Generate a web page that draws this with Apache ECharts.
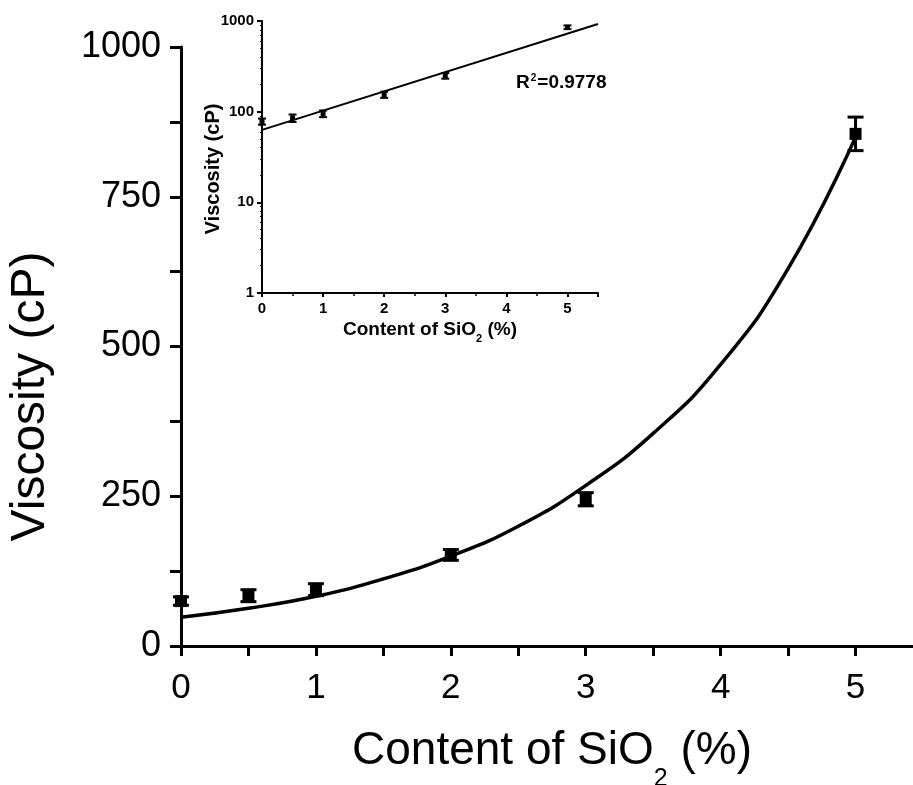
<!DOCTYPE html>
<html>
<head>
<meta charset="utf-8">
<script src="https://cdn.jsdelivr.net/npm/echarts@6/dist/echarts.min.js"></script>
<style>
  html, body { margin: 0; padding: 0; background: #fff; }
  #content { width: 913px; height: 785px; }
</style>
</head>
<body>
<div id="content"></div>
<script>
!(function(window) {
    var element = document.getElementById('content');
    var myChart = echarts.init(element);

    // measured points (main, linear)
    var xPts = [0, 0.5, 1, 2, 3, 5];
    var yMain = [75, 84, 94, 152, 245, 855];
    var errMain = [7, 10, 10, 9, 11, 28];

    // fitted curve
    var fitX = [0, 0.5, 1, 1.5, 2, 2.5, 3, 3.5, 4, 4.5, 5];
    var fitY = [48, 63, 83, 112, 150, 200, 268, 355, 470, 630, 850];

    // inset (log)
    var yInset = [78, 85, 95, 154, 249, 853];
    var errInset = [6, 8, 8, 12, 18, 40];
    var insetFitX = [0, 5.5];
    var insetFitY = [63, 927];

    var yTicks = [0, 250, 500, 750, 1000];

    function pairs(xs, ys) {
        return xs.map(function(x, i) { return [x, ys[i]]; });
    }
    function errData(xs, ys, es) {
        return xs.map(function(x, i) { return [x, ys[i] - es[i], ys[i] + es[i]]; });
    }
    function errRender(capW, lw) {
        return function(params, api) {
            var lo = api.coord([api.value(0), api.value(1)]);
            var hi = api.coord([api.value(0), api.value(2)]);
            var st = { stroke: '#000', lineWidth: lw };
            return {
                type: 'group',
                children: [
                    { type: 'line', shape: { x1: lo[0], y1: lo[1], x2: hi[0], y2: hi[1] }, style: st },
                    { type: 'line', shape: { x1: lo[0] - capW, y1: lo[1], x2: lo[0] + capW, y2: lo[1] }, style: st },
                    { type: 'line', shape: { x1: hi[0] - capW, y1: hi[1], x2: hi[0] + capW, y2: hi[1] }, style: st }
                ]
            };
        };
    }

    var option = {
        animation: false,
        textStyle: { fontFamily: 'Liberation Sans', color: '#000' },
        grid: [
            { left: 181, top: 47, right: -10, bottom: 139, containLabel: false, outerBoundsMode: 'none' },
            { left: 262, top: 21, width: 336, height: 272, containLabel: false, outerBoundsMode: 'none' }
        ],
        xAxis: [{
            gridIndex: 0,
            type: 'value',
            min: 0,
            max: 5.5,
            interval: 0.5,
            name: 'Content of SiO{s|2} (%)',
            nameLocation: 'middle',
            nameGap: 82,
            nameTextStyle: {
                fontSize: 46, color: '#000',
                rich: { s: { fontSize: 25, verticalAlign: 'bottom', padding: [0, 0, -18, 0] } }
            },
            axisLine: { onZero: false, lineStyle: { color: '#000', width: 3 } },
            axisTick: { length: 10, lineStyle: { color: '#000', width: 3 } },
            splitLine: { show: false },
            axisLabel: {
                fontSize: 35, color: '#000', margin: 25,
                formatter: function(v) { return v % 1 === 0 && v <= 5 ? v : ''; }
            }
        }, {
            gridIndex: 1,
            type: 'value',
            min: 0,
            max: 5.5,
            interval: 1,
            name: 'Content of SiO{s|2} (%)',
            nameLocation: 'middle',
            nameGap: 27,
            nameTextStyle: {
                fontSize: 19, fontWeight: 'bold', color: '#000',
                rich: { s: { fontSize: 11, fontWeight: 'bold', verticalAlign: 'bottom', padding: [0, 0, -5, 0] } }
            },
            axisLine: { onZero: false, lineStyle: { color: '#000', width: 2 } },
            axisTick: { length: 4, lineStyle: { color: '#000', width: 2 } },
            minorTick: { show: true, splitNumber: 2, length: 3, lineStyle: { color: '#000', width: 1.5 } },
            splitLine: { show: false },
            axisLabel: {
                fontSize: 15, fontWeight: 'bold', color: '#000', margin: 8,
                formatter: function(v) { return v <= 5 ? v : ''; }
            }
        }],
        yAxis: [{
            gridIndex: 0,
            type: 'value',
            min: 0,
            max: 1000,
            interval: 125,
            name: 'Viscosity (cP)',
            nameLocation: 'middle',
            nameGap: 126,
            nameTextStyle: { fontSize: 48, color: '#000', padding: [0, 100, 0, 0] },
            axisLine: { onZero: false, lineStyle: { color: '#000', width: 3 } },
            axisTick: { length: 11, lineStyle: { color: '#000', width: 3 } },
            splitLine: { show: false },
            axisLabel: {
                fontSize: 36, color: '#000', margin: 20,
                formatter: function(v) { return yTicks.indexOf(v) >= 0 ? v : ''; }
            }
        }, {
            gridIndex: 1,
            type: 'log',
            logBase: 10,
            min: 1,
            max: 1000,
            name: 'Viscosity (cP)',
            nameLocation: 'middle',
            nameGap: 39,
            nameMoveOverlap: false,
            nameTextStyle: { fontSize: 20, fontWeight: 'bold', color: '#000', padding: [0, 24, 0, 0] },
            axisLine: { onZero: false, lineStyle: { color: '#000', width: 2 } },
            axisTick: { length: 5, lineStyle: { color: '#000', width: 2 } },
            minorTick: { show: true, splitNumber: 9, length: 2, lineStyle: { color: '#000', width: 1 } },
            splitLine: { show: false },
            axisLabel: {
                fontSize: 15, fontWeight: 'bold', color: '#000', margin: 8,
                formatter: function(v) { return String(v); }
            }
        }],
        title: {
            text: 'R{p|2}=0.9778',
            left: 516,
            top: 73,
            padding: 0,
            textStyle: {
                fontFamily: 'Liberation Sans', fontSize: 19, fontWeight: 'bold', color: '#000',
                rich: { p: { fontSize: 10, fontWeight: 'bold', verticalAlign: 'top', padding: [0, 1, 0, 1] } }
            }
        },
        series: [{
            name: 'fit',
            type: 'line',
            xAxisIndex: 0,
            yAxisIndex: 0,
            smooth: true,
            symbol: 'none',
            lineStyle: { color: '#000', width: 3.5 },
            data: pairs(fitX, fitY)
        }, {
            name: 'err',
            type: 'custom',
            xAxisIndex: 0,
            yAxisIndex: 0,
            renderItem: errRender(8, 3),
            encode: { x: 0, y: [1, 2] },
            data: errData(xPts, yMain, errMain)
        }, {
            name: 'data',
            type: 'scatter',
            xAxisIndex: 0,
            yAxisIndex: 0,
            symbol: 'rect',
            symbolSize: 12,
            itemStyle: { color: '#000', opacity: 1 },
            data: pairs(xPts, yMain)
        }, {
            name: 'insetFit',
            type: 'line',
            xAxisIndex: 1,
            yAxisIndex: 1,
            symbol: 'none',
            lineStyle: { color: '#000', width: 2 },
            data: pairs(insetFitX, insetFitY)
        }, {
            name: 'insetErr',
            type: 'custom',
            xAxisIndex: 1,
            yAxisIndex: 1,
            renderItem: errRender(4, 2),
            encode: { x: 0, y: [1, 2] },
            data: errData(xPts, yInset, errInset)
        }, {
            name: 'insetData',
            type: 'scatter',
            xAxisIndex: 1,
            yAxisIndex: 1,
            symbol: 'rect',
            symbolSize: 5,
            itemStyle: { color: '#000', opacity: 1 },
            data: pairs(xPts, yInset)
        }]
    };
    myChart.setOption(option);
})(window);
</script>
</body>
</html>
